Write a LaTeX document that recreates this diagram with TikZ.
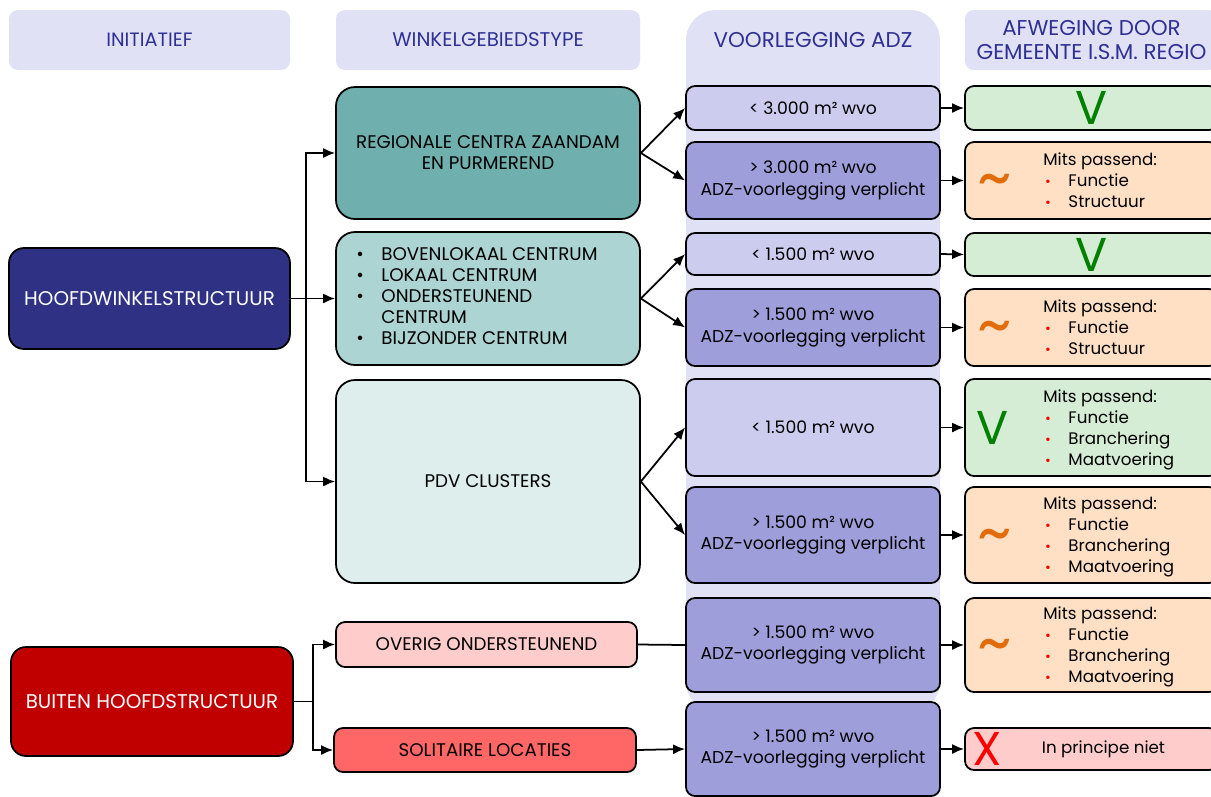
\documentclass[tikz,border=0pt]{standalone}
\usepackage{fontspec}
\setmainfont{Poppins}
\usepackage{xcolor}
\usetikzlibrary{arrows,arrows.meta,positioning,calc}

\definecolor{headfill}{HTML}{E1E1F6}
\definecolor{headtext}{HTML}{2E3192}
\definecolor{hwsblue}{HTML}{2F3185}
\definecolor{buired}{HTML}{C00000}
\definecolor{regteal}{HTML}{6FB0AE}
\definecolor{bovteal}{HTML}{ABD4D2}
\definecolor{pdvteal}{HTML}{DDEEED}
\definecolor{ovrpink}{HTML}{FFCCCC}
\definecolor{solred}{HTML}{FF6666}
\definecolor{adzlight}{HTML}{CCCCEE}
\definecolor{adzdark}{HTML}{9E9EDB}
\definecolor{resgreen}{HTML}{D5EDD5}
\definecolor{resorange}{HTML}{FFE0C5}
\definecolor{respink}{HTML}{FFCCCC}
\definecolor{vgreen}{HTML}{008000}
\definecolor{tildeorange}{HTML}{E36C0A}

\newcommand{\rb}{\textcolor{red}{\footnotesize\textbullet}}

\begin{document}
\begin{tikzpicture}[x=0.02cm, y=-0.02cm,
    every node/.style={font=\fontsize{9.5}{11.9}\selectfont},
    hdr/.style={fill=headfill, rounded corners=0.18cm, text=headtext, align=center,
        font=\fontsize{11.3}{13}\selectfont},
    box/.style={draw=black, line width=1pt, rounded corners=0.18cm, align=center, inner sep=2pt},
    bigbox/.style={box, rounded corners=0.38cm, font=\fontsize{10.4}{12}\selectfont},
    adzbox/.style={box, font=\fontsize{9.8}{12}\selectfont},
    sz/.style 2 args={minimum width=#1*0.02cm, minimum height=#2*0.02cm},
    arr/.style={-{Latex[length=2.4mm,width=2mm]}, line width=1pt},
    vmark/.style={text=vgreen, font=\fontsize{27}{27}\selectfont},
    tmark/.style={text=tildeorange, font=\fontsize{38}{38}\selectfont},
    xmark/.style={text=red, font=\fontsize{27}{27}\selectfont}]

    \useasboundingbox (0,0) rectangle (1211,796);

    % Column headers
    \node[hdr, sz={281}{60}, font=\fontsize{11}{13}\selectfont] (hinit) at (149.5,40) {INITIATIEF};
    \node[hdr, sz={304}{60}] (htype) at (488,40) {WINKELGEBIEDSTYPE};
    \fill[headfill, rounded corners=0.6cm] (686,712) -- (686,10) -- (940,10) -- (940,712) -- cycle;
    \node[text=headtext, font=\fontsize{12.2}{13}\selectfont] (hadz) at (813,40) {VOORLEGGING ADZ};
    \node[hdr, sz={253}{60}, font=\fontsize{12.2}{13.2}\selectfont] (hafw) at (1091.5,40) {AFWEGING DOOR\\GEMEENTE I.S.M. REGIO};

    % Initiatief
    \node[box, sz={281}{101}, fill=hwsblue, text=white, rounded corners=0.3cm,
        font=\fontsize{11.3}{13}\selectfont] (hws) at (149.5,298.5) {HOOFDWINKELSTRUCTUUR};
    \node[box, sz={282}{109}, fill=buired, text=white, rounded corners=0.3cm,
        font=\fontsize{11.3}{13}\selectfont] (bui) at (152,701.5) {BUITEN HOOFDSTRUCTUUR};

    % Winkelgebiedstype
    \node[bigbox, sz={304}{132}, fill=regteal] (reg) at (488,153) {REGIONALE CENTRA ZAANDAM\\EN PURMEREND};
    \node[bigbox, sz={304}{133}, fill=bovteal] (bov) at (488,298.5) {};
    \node[anchor=west, font=\fontsize{10.4}{11.9}\selectfont] (bovl) at ($(bov.west)+(15,0)$) {\begin{tabular}{@{}l@{\hspace{10pt}}l@{}}
        \textbullet & BOVENLOKAAL CENTRUM\\
        \textbullet & LOKAAL CENTRUM\\
        \textbullet & ONDERSTEUNEND\\
                    & CENTRUM\\
        \textbullet & BIJZONDER CENTRUM\end{tabular}};
    \node[bigbox, sz={304}{203}, fill=pdvteal] (pdv) at (488,481.5) {PDV CLUSTERS};
    \node[box, sz={301}{45}, fill=ovrpink, font=\fontsize{10.4}{12}\selectfont] (ovr) at (486.5,644.5) {OVERIG ONDERSTEUNEND};
    \node[box, sz={302}{44}, fill=solred, font=\fontsize{10.4}{12}\selectfont] (sol) at (485,750) {SOLITAIRE LOCATIES};

    % Voorlegging ADZ
    \node[adzbox, sz={254}{44}, fill=adzlight] (adz1) at (813,108) {< 3.000 m² wvo};
    \node[adzbox, sz={254}{77}, fill=adzdark] (adz2) at (813,180.5) {> 3.000 m² wvo\\ADZ-voorlegging verplicht};
    \node[adzbox, sz={254}{42}, fill=adzlight] (adz3) at (813,254) {< 1.500 m² wvo};
    \node[adzbox, sz={254}{77}, fill=adzdark] (adz4) at (813,327.5) {> 1.500 m² wvo\\ADZ-voorlegging verplicht};
    \node[adzbox, sz={254}{97}, fill=adzlight] (adz5) at (813,427.5) {< 1.500 m² wvo};
    \node[adzbox, sz={254}{96}, fill=adzdark] (adz6) at (813,535) {> 1.500 m² wvo\\ADZ-voorlegging verplicht};
    \node[adzbox, sz={254}{94}, fill=adzdark] (adz7) at (813,645) {> 1.500 m² wvo\\ADZ-voorlegging verplicht};
    \node[adzbox, sz={254}{94}, fill=adzdark] (adz8) at (813,749) {> 1.500 m² wvo\\ADZ-voorlegging verplicht};

    % Afweging
    \node[box, sz={253}{44}, fill=resgreen] (res1) at (1091.5,108) {};
    \node[vmark] (v1) at (res1) {V};
    \node[box, sz={253}{77}, fill=resorange] (res2) at (1091.5,180.5) {};
    \node[tmark] (t2) at ($(res2.west)+(31,7)$) {\textasciitilde};
    \node[anchor=west] (l2) at ($(res2.west)+(73,2)$) {\begin{tabular}{@{\hspace{1pt}}l@{\hspace{10pt}}l@{}}
        \multicolumn{2}{@{}l@{}}{Mits passend:}\\ \rb & Functie\\ \rb & Structuur\end{tabular}};
    \node[box, sz={253}{43}, fill=resgreen] (res3) at (1091.5,254.5) {};
    \node[vmark] (v3) at (res3) {V};
    \node[box, sz={253}{77}, fill=resorange] (res4) at (1091.5,327.5) {};
    \node[tmark] (t4) at ($(res4.west)+(31,7)$) {\textasciitilde};
    \node[anchor=west] (l4) at ($(res4.west)+(73,2)$) {\begin{tabular}{@{\hspace{1pt}}l@{\hspace{10pt}}l@{}}
        \multicolumn{2}{@{}l@{}}{Mits passend:}\\ \rb & Functie\\ \rb & Structuur\end{tabular}};
    \node[box, sz={253}{97}, fill=resgreen] (res5) at (1091.5,427.5) {};
    \node[vmark] (v5) at ($(res5.west)+(28,0)$) {V};
    \node[anchor=west] (l5) at ($(res5.west)+(73,2)$) {\begin{tabular}{@{\hspace{1pt}}l@{\hspace{10pt}}l@{}}
        \multicolumn{2}{@{}l@{}}{Mits passend:}\\ \rb & Functie\\ \rb & Branchering\\ \rb & Maatvoering\end{tabular}};
    \node[box, sz={253}{96}, fill=resorange] (res6) at (1091.5,535) {};
    \node[tmark] (t6) at ($(res6.west)+(31,7)$) {\textasciitilde};
    \node[anchor=west] (l6) at ($(res6.west)+(73,2)$) {\begin{tabular}{@{\hspace{1pt}}l@{\hspace{10pt}}l@{}}
        \multicolumn{2}{@{}l@{}}{Mits passend:}\\ \rb & Functie\\ \rb & Branchering\\ \rb & Maatvoering\end{tabular}};
    \node[box, sz={253}{94}, fill=resorange] (res7) at (1091.5,645) {};
    \node[tmark] (t7) at ($(res7.west)+(31,7)$) {\textasciitilde};
    \node[anchor=west] (l7) at ($(res7.west)+(73,2)$) {\begin{tabular}{@{\hspace{1pt}}l@{\hspace{10pt}}l@{}}
        \multicolumn{2}{@{}l@{}}{Mits passend:}\\ \rb & Functie\\ \rb & Branchering\\ \rb & Maatvoering\end{tabular}};
    \node[box, sz={253}{42}, fill=respink] (res8) at (1091.5,749) {};
    \node[xmark] (x8) at ($(res8.west)+(23,0)$) {X};
    \node (l8) at ($(res8.center)+(12,0)$) {In principe niet};

    % Connectors from initiatief
    \coordinate (hbus) at ($(hws.east)+(15,0)$);
    \draw[arr] (hws.east) -- (hbus) |- (reg.west);
    \draw[arr] (hbus) -- (bov.west);
    \draw[arr] (hbus) |- (pdv.west);
    \coordinate (bbus) at ($(bui.east)+(19,0)$);
    \draw[arr] (bui.east) -- (bbus) |- (ovr.west);
    \draw[arr] (bbus) |- (sol.west);

    % Connectors to ADZ
    \draw[arr] (reg.east) -- (adz1.west);
    \draw[arr] (reg.east) -- (adz2.west);
    \draw[arr] (bov.east) -- (adz3.west);
    \draw[arr] (bov.east) -- (adz4.west);
    \draw[arr] (pdv.east) -- (adz5.west);
    \draw[arr] (pdv.east) -- (adz6.west);
    \draw[line width=1pt] (ovr.east) -- (adz7.west);
    \draw[arr] (sol.east) -- (adz8.west);

    % Connectors to afweging
    \foreach \i in {1,...,8}
        \draw[arr] (adz\i.east) -- (res\i.west);
\end{tikzpicture}
\end{document}
